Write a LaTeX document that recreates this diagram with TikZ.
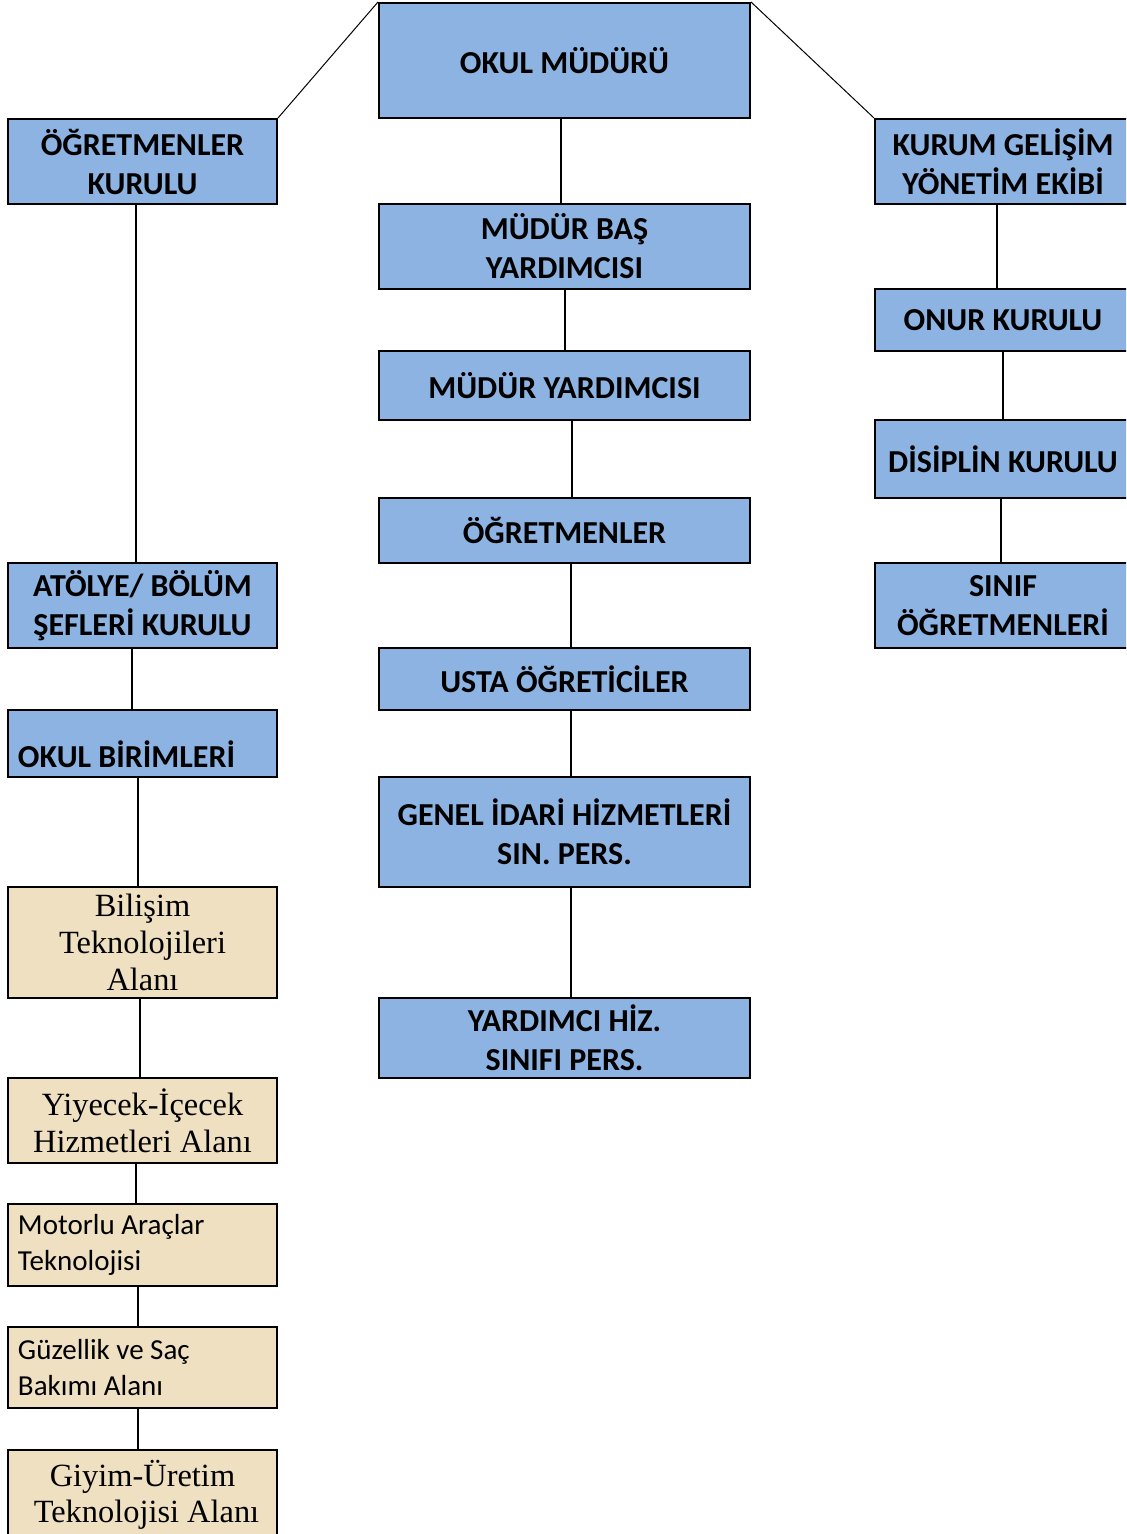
\documentclass[tikz,border=0pt]{standalone}
\usepackage{fontspec}
\setmainfont{Carlito}
\newfontfamily\timesfont{Liberation Serif}
\usepackage{tikz}
\usetikzlibrary{calc}

\definecolor{boxblue}{RGB}{141,179,226}
\definecolor{boxtan}{RGB}{238,224,192}

\tikzset{
  ubox/.style={draw, line width=1pt, fill=boxblue, align=center, inner sep=0pt,
    font=\fontsize{16}{19.5}\selectfont\bfseries},
  abox/.style={draw, line width=1pt, fill=boxtan, align=center, inner sep=0pt,
    font=\fontsize{16.2}{18.3}\selectfont\timesfont},
  sbox/.style={draw, line width=1pt, fill=boxtan, align=flush left, inner sep=0pt,
    text width=124.5pt, font=\fontsize{14.5}{18}\selectfont},
  conn/.style={line width=1pt},
  thinconn/.style={line width=0.5pt}
}

\begin{document}
\begin{tikzpicture}[x=0.5pt,y=-0.5pt]
  \useasboundingbox (0,0) rectangle (1126,1534);
  \clip (0,0) rectangle (1126,1534);
  % middle column
  \node[ubox, minimum width=185.5pt, minimum height=57.5pt] (mudur) at (564.5,60.5) {OKUL MÜDÜRÜ};
  \node[ubox, minimum width=185.5pt, minimum height=42.5pt] (basyard) at (564.5,246.5) {MÜDÜR BAŞ\\YARDIMCISI};
  \node[ubox, minimum width=185.5pt, minimum height=34.5pt] (yard) at (564.5,385.5) {MÜDÜR YARDIMCISI};
  \node[ubox, minimum width=185.5pt, minimum height=32.5pt] (ogretmen) at (564.5,530.5) {ÖĞRETMENLER};
  \node[ubox, minimum width=185.5pt, minimum height=31pt] (usta) at (564.5,679) {USTA ÖĞRETİCİLER};
  \node[ubox, minimum width=185.5pt, minimum height=55pt] (genel) at (564.5,832) {GENEL İDARİ HİZMETLERİ\\SIN. PERS.};
  \node[ubox, minimum width=185.5pt, minimum height=40pt] (yardhiz) at (564.5,1038) {YARDIMCI HİZ.\\SINIFI PERS.};
  % left column
  \node[ubox, minimum width=134.5pt, minimum height=42.5pt] (ogkurul) at (142.5,161.5) {ÖĞRETMENLER\\KURULU};
  \node[ubox, minimum width=134.5pt, minimum height=42.5pt] (atolye) at (142.5,605.5) {ATÖLYE/ BÖLÜM\\ŞEFLERİ KURULU};
  \node[ubox, minimum width=134.5pt, minimum height=33.5pt, text width=124.5pt, align=flush left] (birim) at (142.5,743.5) {\raisebox{-12pt}[0pt][0pt]{OKUL BİRİMLERİ}};
  \node[abox, minimum width=134.5pt, minimum height=55.5pt] (bilisim) at (142.5,942.5) {Bilişim\\Teknolojileri\\Alanı};
  \node[abox, minimum width=134.5pt, minimum height=42.5pt] (yiyecek) at (142.5,1120.5) {Yiyecek-İçecek\\Hizmetleri Alanı};
  \node[sbox, minimum width=134.5pt, minimum height=41pt] (motor) at (142.5,1245) {Motorlu Araçlar\\Teknolojisi};
  \node[sbox, minimum width=134.5pt, minimum height=40.5pt] (guzel) at (142.5,1367.5) {Güzellik ve Saç\\Bakımı Alanı};
  \node[abox, minimum width=134.5pt, minimum height=45pt] (giyim) at (142.5,1495) {Giyim-Üretim\\\hspace*{4pt}Teknolojisi Alanı};
  % right column
  \node[ubox, minimum width=128pt, minimum height=42.5pt] (kurum) at (1003,161.5) {KURUM GELİŞİM\\YÖNETİM EKİBİ};
  \node[ubox, minimum width=128pt, minimum height=31pt] (onur) at (1003,320) {ONUR KURULU};
  \node[ubox, minimum width=128pt, minimum height=39pt] (disiplin) at (1003,459) {DİSİPLİN KURULU};
  \node[ubox, minimum width=128pt, minimum height=42.5pt] (sinif) at (1003,605.5) {SINIF\\ÖĞRETMENLERİ};

  % lines
  \draw[thinconn] (ogkurul.north east) -- (mudur.north west);
  \draw[thinconn] (mudur.north east) -- (kurum.north west);
  \draw[conn] ([xshift=-1.75pt]mudur.south) -- ([xshift=-1.75pt]basyard.north);
  \draw[conn] (basyard.south) -- (yard.north);
  \draw[conn] ([xshift=3.75pt]yard.south) -- ([xshift=3.75pt]ogretmen.north);
  \draw[conn] ([xshift=3.25pt]ogretmen.south) -- ([xshift=3.25pt]usta.north);
  \draw[conn] ([xshift=3.25pt]usta.south) -- ([xshift=3.25pt]genel.north);
  \draw[conn] ([xshift=3.25pt]genel.south) -- ([xshift=3.25pt]yardhiz.north);
  \draw[conn] ([xshift=-3.25pt]ogkurul.south) -- ([xshift=-3.25pt]atolye.north);
  \draw[conn] ([xshift=-5.25pt]atolye.south) -- ([xshift=-5.25pt]birim.north);
  \draw[conn] ([xshift=-2.25pt]birim.south) -- ([xshift=-2.25pt]bilisim.north);
  \draw[conn] ([xshift=-1.25pt]bilisim.south) -- ([xshift=-1.25pt]yiyecek.north);
  \draw[conn] ([xshift=-3.25pt]yiyecek.south) -- ([xshift=-3.25pt]motor.north);
  \draw[conn] ([xshift=-2.25pt]motor.south) -- ([xshift=-2.25pt]guzel.north);
  \draw[conn] ([xshift=-2.25pt]guzel.south) -- ([xshift=-2.25pt]giyim.north);
  \draw[conn] ([xshift=-3pt]kurum.south) -- ([xshift=-3pt]onur.north);
  \draw[conn] (onur.south) -- (disiplin.north);
  \draw[conn] ([xshift=-1pt]disiplin.south) -- ([xshift=-1pt]sinif.north);
\end{tikzpicture}
\end{document}
